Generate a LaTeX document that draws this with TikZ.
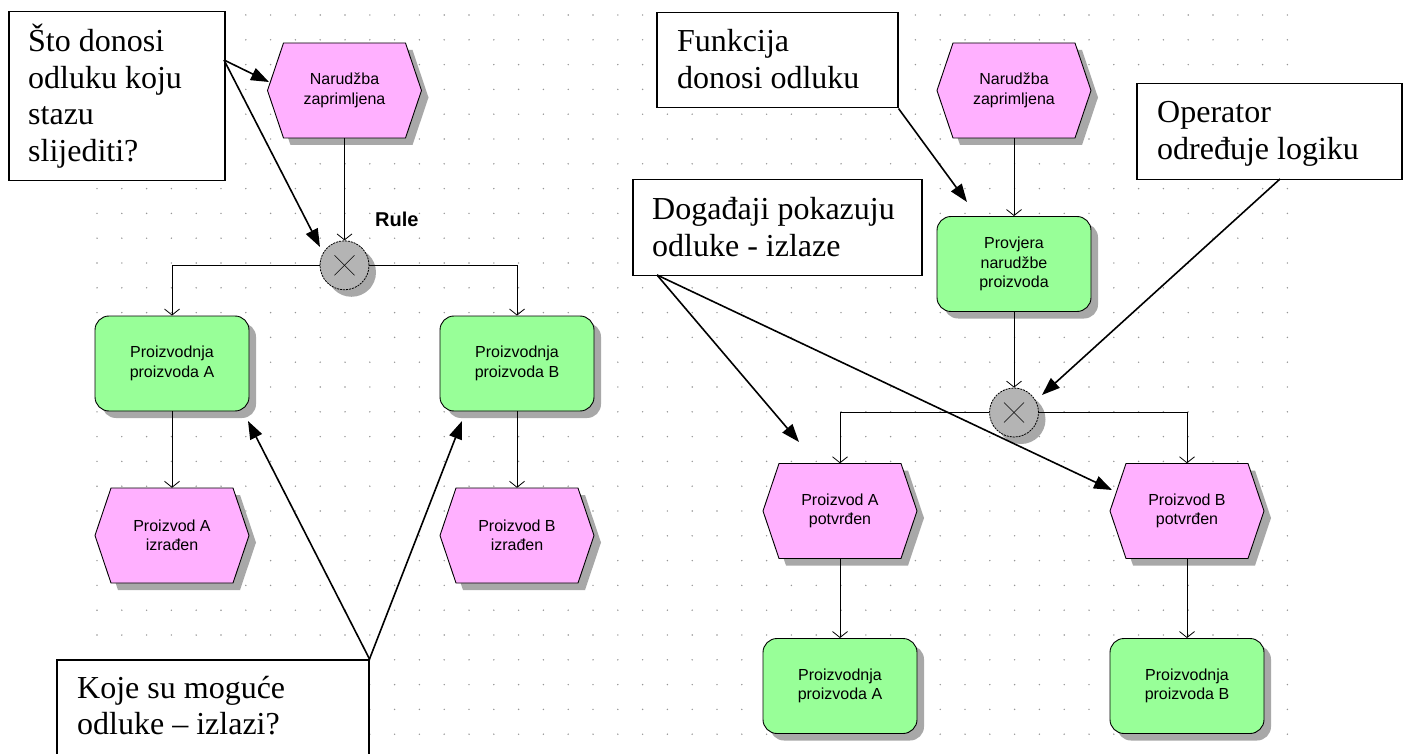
\documentclass[tikz,border=0pt]{standalone}
\usepackage{fontspec}
\setmainfont{Liberation Serif}
\newfontfamily\arialf{Liberation Sans}
\usetikzlibrary{arrows.meta,shadows}
\definecolor{evfill}{RGB}{255,176,255}
\definecolor{fnfill}{RGB}{152,255,152}
\definecolor{opfill}{RGB}{180,180,180}
\definecolor{shcol}{RGB}{168,168,168}
\definecolor{dotcol}{RGB}{150,150,150}
\begin{document}
\begin{tikzpicture}[x=1pt,y=-1pt,
 shadowed/.style={drop shadow={shadow xshift=7pt,shadow yshift=-7pt,fill=shcol,opacity=1}},
 func/.style={draw=black,line width=0.9pt,fill=fnfill,rounded corners=14pt,minimum width=154pt,minimum height=95pt,inner sep=0pt,align=center,font=\arialf\fontsize{16}{19.5}\selectfont,shadowed},
 evtext/.style={minimum width=154pt,minimum height=95pt,inner sep=0pt,align=center,font=\arialf\fontsize{16}{19.5}\selectfont},
 oper/.style={circle,draw=black,line width=0.8pt,dash pattern=on 2pt off 1pt,fill=opfill,minimum size=49pt,inner sep=0pt,shadowed},
 flow/.style={line width=0.8pt,-{Straight Barb[length=6pt,width=15pt]}},
 callout/.style={draw=black,line width=1.5pt,fill=white,inner sep=0pt,anchor=north west},
 ctext/.style={inner sep=0pt,anchor=base west,font=\fontsize{32}{36.5}\selectfont},
 note/.style={line width=1.6pt,-{Triangle[length=18pt,width=13pt]}},
 pics/event/.style={code={
   \fill[shcol] (-70,7) -- (-54,-40.5) -- (68,-40.5) -- (84,7) -- (68,54.5) -- (-54,54.5) -- cycle;
   \draw[line width=0.9pt,fill=evfill] (-77,0) -- (-61,-47.5) -- (61,-47.5) -- (77,0) -- (61,47.5) -- (-61,47.5) -- cycle;
   \node[evtext] (-c) {#1};
 }}
]
\useasboundingbox (0,0) rectangle (1409,754);
\fill[white] (0,0) rectangle (1409,754);
% dot grid
\foreach \i in {0,...,48}{
  \foreach \j in {0,...,29}{
    \fill[dotcol] (97+24.8*\i,15+24.8*\j) circle (0.8pt);
  }
}
% ---------- left diagram ----------
\pic (e1) at (344.5,90.5) {event={Narudžba\\zaprimljena}};
\node[oper] (x1) at (344.5,265.3) {};
\draw[line width=0.6pt] ([shift={(-10,-10)}]x1.center) -- ([shift={(10,10)}]x1.center);
\draw[line width=0.6pt] ([shift={(-10,10)}]x1.center) -- ([shift={(10,-10)}]x1.center);
\node[inner sep=0pt,anchor=base west,font=\arialf\bfseries\fontsize{20}{24}\selectfont] (rule) at (375,226.7) {Rule};
\node[func] (fa) at (172,363.5) {Proizvodnja\\proizvoda A};
\node[func] (fb) at (517,363.5) {Proizvodnja\\proizvoda B};
\pic (ea) at (172,535.5) {event={Proizvod A\\izrađen}};
\pic (eb) at (517,535.5) {event={Proizvod B\\izrađen}};
\draw[flow] (e1-c.south) -- (x1.north);
\draw[flow] (x1.west) -| (fa.north);
\draw[flow] (x1.east) -| (fb.north);
\draw[flow] (fa.south) -- (ea-c.north);
\draw[flow] (fb.south) -- (eb-c.north);
% ---------- right diagram ----------
\pic (e2) at (1014,90.5) {event={Narudžba\\zaprimljena}};
\node[func] (f2) at (1014,264) {Provjera\\narudžbe\\proizvoda};
\node[oper] (x2) at (1014,412.5) {};
\draw[line width=0.6pt] ([shift={(-10,-10)}]x2.center) -- ([shift={(10,10)}]x2.center);
\draw[line width=0.6pt] ([shift={(-10,10)}]x2.center) -- ([shift={(10,-10)}]x2.center);
\pic (ea2) at (840,511) {event={Proizvod A\\potvrđen}};
\pic (eb2) at (1187,511) {event={Proizvod B\\potvrđen}};
\node[func] (fa2) at (840,686) {Proizvodnja\\proizvoda A};
\node[func] (fb2) at (1187,686) {Proizvodnja\\proizvoda B};
\draw[flow] (e2-c.south) -- (f2.north);
\draw[flow] (f2.south) -- (x2.north);
\draw[flow] (x2.west) -| (ea2-c.north);
\draw[flow] (x2.east) -| (eb2-c.north);
\draw[flow] (ea2-c.south) -- (fa2.north);
\draw[flow] (eb2-c.south) -- (fb2.north);
% ---------- callouts ----------
\node[callout,minimum width=216pt,minimum height=169pt] (c1) at (8,11) {};
\node[ctext] (c1t) at (28,52) {\vtop{\hbox{Što donosi}\hbox{odluku koju}\hbox{stazu}\hbox{slijediti?}}};
\node[callout,minimum width=312pt,minimum height=110pt] (c2) at (56,659) {};
\node[ctext] (c2t) at (77,698) {\vtop{\hbox{Koje su moguće}\hbox{odluke – izlazi?}}};
\node[callout,minimum width=241pt,minimum height=95pt] (c3) at (656,12) {};
\node[ctext] (c3t) at (677,52) {\vtop{\hbox{Funkcija}\hbox{donosi odluku}}};
\node[callout,minimum width=289pt,minimum height=96pt] (c4) at (632,179) {};
\node[ctext] (c4t) at (652,220) {\vtop{\hbox{Događaji pokazuju}\hbox{odluke - izlaze}}};
\node[callout,minimum width=265pt,minimum height=96pt] (c5) at (1136,83) {};
\node[ctext] (c5t) at (1157,123) {\vtop{\hbox{Operator}\hbox{određuje logiku}}};
% callout pointers
\coordinate (c1o) at (224,60);
\coordinate (c4o) at (657,275);
\coordinate (c5o) at (1280,179);
\coordinate (t1) at (269,82);
\coordinate (t2) at (320,247);
\coordinate (t3) at (248,421);
\coordinate (t4) at (462,421);
\coordinate (t5) at (967,202);
\coordinate (t6) at (799,442);
\coordinate (t7) at (1112,490);
\coordinate (t8) at (1042,395);
\draw[note] (c1o) -- (t1);
\draw[note] (c1o) -- (t2);
\draw[note] (c2.north east) -- (t3);
\draw[note] (c2.north east) -- (t4);
\draw[note] (c3.south east) -- (t5);
\draw[note] (c4o) -- (t6);
\draw[note] (c4o) -- (t7);
\draw[note] (c5o) -- (t8);
\end{tikzpicture}
\end{document}
